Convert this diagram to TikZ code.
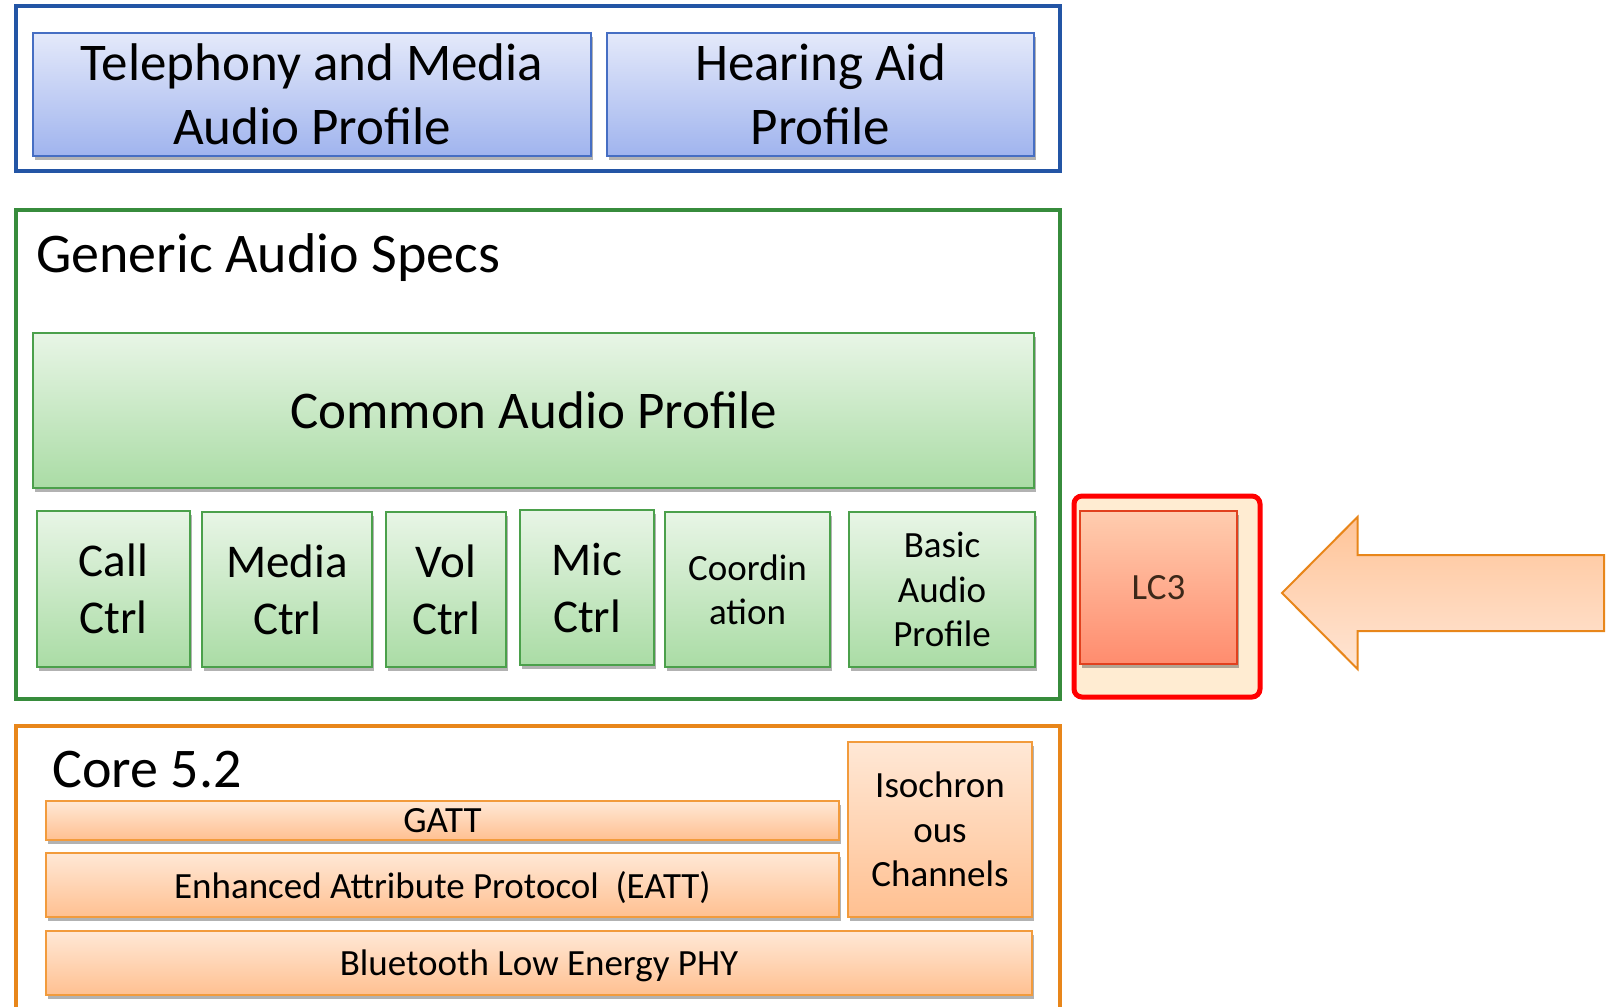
\documentclass[tikz,border=0pt]{standalone}
\usepackage{fontspec}
\setmainfont{Carlito}
\usetikzlibrary{shadows}
\definecolor{bluedark}{RGB}{35,85,165}
\definecolor{bluebord}{RGB}{70,110,195}
\definecolor{bluetop}{RGB}{228,233,250}
\definecolor{bluebot}{RGB}{160,180,238}
\definecolor{greendark}{RGB}{55,140,60}
\definecolor{greenbord}{RGB}{75,160,75}
\definecolor{greentop}{RGB}{232,245,230}
\definecolor{greenbot}{RGB}{170,220,165}
\definecolor{orangedark}{RGB}{232,134,26}
\definecolor{orangebord}{RGB}{242,155,60}
\definecolor{orangetop}{RGB}{255,232,214}
\definecolor{orangebot}{RGB}{255,192,145}
\definecolor{lcfill}{RGB}{255,236,210}
\definecolor{lctop}{RGB}{255,205,175}
\definecolor{lcbot}{RGB}{255,140,110}
\definecolor{lcbord}{RGB}{225,65,30}
\definecolor{lctext}{RGB}{60,40,25}
\definecolor{arrtop}{RGB}{255,196,152}
\definecolor{arrbot}{RGB}{255,229,212}
\newcommand\bigtxt{\fontsize{53}{63.6}\selectfont}
\newcommand\titletxt{\fontsize{56}{67}\selectfont}
\newcommand\midtxt{\fontsize{47}{57}\selectfont}
\newcommand\smalltxt{\fontsize{37}{44.4}\selectfont}
\tikzset{
  outerbox/.style={draw=#1, line width=4pt, inner sep=0pt},
  innerbox/.style={draw, line width=2pt, inner sep=0pt, align=center,
    drop shadow={shadow xshift=2pt, shadow yshift=-4pt, fill=black, opacity=0.3}},
  bluebox/.style={innerbox, draw=bluebord, top color=bluetop, bottom color=bluebot, font=\bigtxt},
  greenbox/.style={innerbox, draw=greenbord, top color=greentop, bottom color=greenbot},
  orangebox/.style={innerbox, draw=orangebord, top color=orangetop, bottom color=orangebot, font=\smalltxt},
  sz/.style n args={2}{minimum width=#1pt, minimum height=#2pt},
}
\begin{document}
\begin{tikzpicture}[x=1pt, y=-1pt]
\useasboundingbox (0,0) rectangle (1610,1007);
% top group
\node[outerbox=bluedark, sz={1044}{165}] (profiles) at (538,88.5) {};
\node[bluebox, sz={558}{123}] (tmap) at (312,94.5) {Telephony and Media\\Audio Profile};
\node[bluebox, sz={427}{123}] (hap) at (820.5,94.5) {Hearing Aid\\Profile};
% generic audio
\node[outerbox=greendark, sz={1044}{489}] (generic) at (538,454.5) {};
\node[anchor=base west, inner sep=0pt, font=\titletxt] (gastitle) at (36,272) {Generic Audio Specs};
\node[greenbox, sz={1001}{155}, font=\bigtxt] (cap) at (533.5,410.5) {Common Audio Profile};
\node[greenbox, sz={153}{156}, font=\midtxt] (call) at (113.5,589) {Call\\Ctrl};
\node[greenbox, sz={170}{155}, font=\midtxt] (media) at (287,589.5) {Media\\Ctrl};
\node[greenbox, sz={120}{155}, font=\midtxt] (vol) at (446,589.5) {Vol\\Ctrl};
\node[greenbox, sz={134}{155}, font=\midtxt] (mic) at (587,587.5) {Mic\\Ctrl};
\node[greenbox, sz={165}{155}, font=\smalltxt] (coord) at (747.5,589.5) {Coordin\\ation};
\node[greenbox, sz={186}{155}, font=\smalltxt] (bap) at (942,589.5) {Basic\\Audio\\Profile};
% LC3
\node[draw=red, line width=5pt, rounded corners=8pt, fill=lcfill, sz={186}{201}, inner sep=0pt] (lcouter) at (1167,596.5) {};
\node[innerbox, draw=lcbord, top color=lctop, bottom color=lcbot, sz={157}{153}, font=\smalltxt, text=lctext] (lc3) at (1158.5,587.5) {LC3};
\coordinate (tip) at (1282,593);
\draw[draw=orangedark, line width=2pt, top color=arrtop, bottom color=arrbot, line join=miter]
  (tip) -- (1357.5,517) -- (1357.5,555) -- (1604,555) -- (1604,631) -- (1357.5,631) -- (1357.5,669) -- cycle;
% core
\node[outerbox=orangedark, sz={1044}{320}] (core) at (538,886) {};
\node[anchor=base west, inner sep=0pt, font=\titletxt] (coretitle) at (52,787) {Core 5.2};
\node[orangebox, sz={793}{39}] (gatt) at (442.5,820.5) {GATT};
\node[orangebox, sz={793}{64}, text depth=0pt] (eatt) at (442.5,885) {Enhanced Attribute Protocol\ \ (EATT)};
\node[orangebox, sz={184}{175}] (iso) at (940,829.5) {Isochron\\ous\\Channels};
\node[orangebox, sz={986}{64}, text depth=0pt] (phy) at (539,963) {Bluetooth Low Energy PHY};
\end{tikzpicture}
\end{document}
